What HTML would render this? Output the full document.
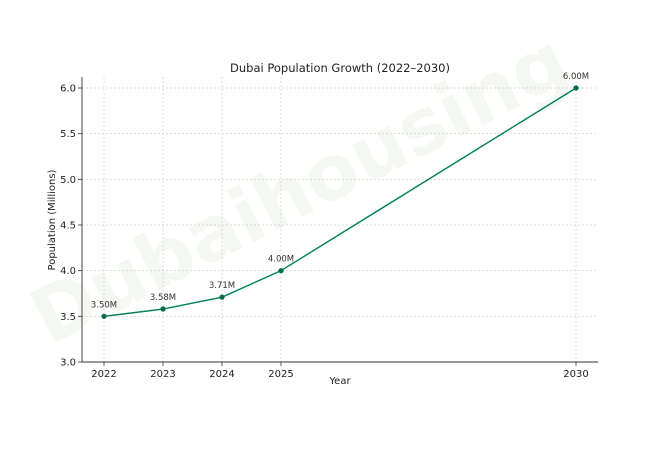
<!DOCTYPE html>
<html><head><meta charset="utf-8"><style>
body{margin:0;background:#fff}
svg text{font-family:"DejaVu Sans","Liberation Sans",sans-serif}
</style></head><body>
<svg width="650" height="450" viewBox="0 0 650 450" xmlns="http://www.w3.org/2000/svg">
<rect width="650" height="450" fill="#fff"/>
<text x="300" y="215" transform="rotate(-27 300 190)" text-anchor="middle" font-size="76" font-weight="bold" fill="#f5f7f2">Dubaihousing</text>
<g id="grid"></g>
<g id="axes"></g>
<g id="marks"></g>
<text x="340" y="72" text-anchor="middle" font-size="11.5" fill="#222">Dubai Population Growth (2022–2030)</text>
<text x="340" y="384" text-anchor="middle" font-size="10" fill="#222">Year</text>
<text x="0" y="0" transform="translate(55 220) rotate(-90)" text-anchor="middle" font-size="10" fill="#222">Population (Millions)</text>
</svg>
<script>
const years=[2022,2023,2024,2025,2030];
const values=[3.50,3.58,3.71,4.00,6.00];
const pointLabels=["3.50M","3.58M","3.71M","4.00M","6.00M"];
const yTicks=[3.0,3.5,4.0,4.5,5.0,5.5,6.0];
const NS="http://www.w3.org/2000/svg";
const L=82,R=598,T=77,B=362;
const xs=y=>104+(y-2022)*(576-104)/8;
const ys=v=>362-(v-3)*(362-88)/3;
function mk(tag,attrs,parent,text){const e=document.createElementNS(NS,tag);for(const k in attrs)e.setAttribute(k,attrs[k]);if(text!==undefined)e.textContent=text;parent.appendChild(e);return e;}
const grid=document.getElementById('grid'),axes=document.getElementById('axes'),marks=document.getElementById('marks');
yTicks.forEach(t=>{const y=ys(t);
 const g=mk('line',{x1:L,x2:R,y1:y,y2:y,stroke:'#ccc','stroke-width':0.7,'stroke-dasharray':'2,2'},grid);
 
 const tk=mk('line',{x1:L-4,x2:L,y1:y,y2:y,stroke:'#333','stroke-width':0.8},axes);
 
 const tx=mk('text',{x:L-6,y:y+3.5,'text-anchor':'end','font-size':10,fill:'#222'},axes,t.toFixed(1));
 });
years.forEach(yr=>{const x=xs(yr);
 const g=mk('line',{x1:x,x2:x,y1:T,y2:B,stroke:'#ccc','stroke-width':0.7,'stroke-dasharray':'2,2'},grid);
 
 const tk=mk('line',{x1:x,x2:x,y1:B,y2:B+4,stroke:'#333','stroke-width':0.8},axes);
 
 const tx=mk('text',{x:x,y:B+15,'text-anchor':'middle','font-size':10,fill:'#222'},axes,String(yr));
 });
const la=mk('line',{x1:L,x2:L,y1:T,y2:B,stroke:'#333','stroke-width':0.9},axes);

const ba=mk('line',{x1:L,x2:R,y1:B,y2:B,stroke:'#333','stroke-width':0.9},axes);

const pl=mk('polyline',{points:years.map((y,i)=>xs(y)+','+ys(values[i])).join(' '),fill:'none',stroke:'#00805a','stroke-width':1.4},marks);

years.forEach((yr,i)=>{
 const c=mk('circle',{cx:xs(yr),cy:ys(values[i]),r:2.6,fill:'#006b45'},marks);
 
 const t=mk('text',{x:xs(yr),y:ys(values[i])-9,'text-anchor':'middle','font-size':8.5,fill:'#333'},marks,pointLabels[i]);
 });
</script>
</body></html>
